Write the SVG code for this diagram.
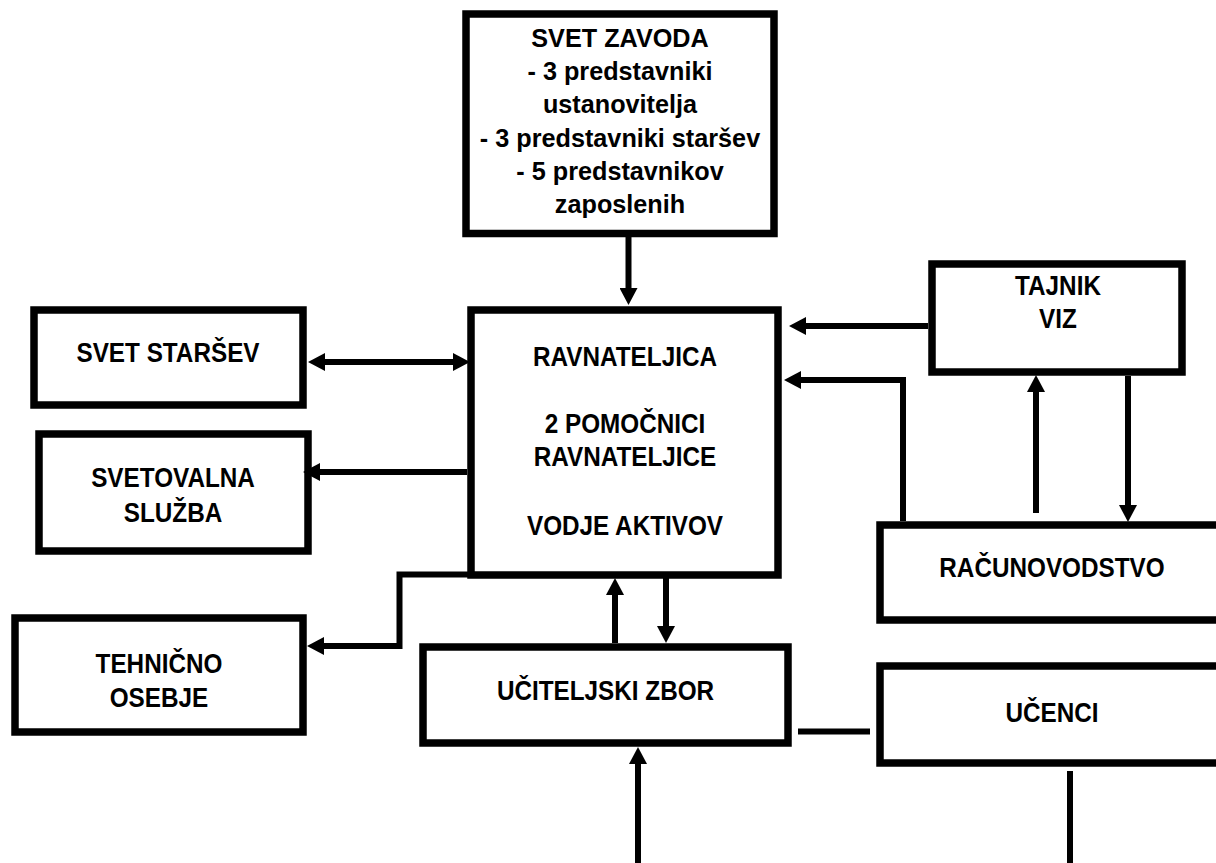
<svg xmlns="http://www.w3.org/2000/svg" width="1216" height="863" viewBox="0 0 1216 863">
<defs>
<style>
.box{fill:#fff;stroke:#000;stroke-width:7.5}
.t{font-family:"Liberation Sans",Arial,sans-serif;font-weight:bold;font-size:27px;fill:#000;text-anchor:middle}
.s{font-size:26px}
.c{fill:none;stroke:#000;stroke-width:6}
.ar{marker-end:url(#ah)}
</style>
<marker id="ah" markerUnits="userSpaceOnUse" markerWidth="18" markerHeight="18" viewBox="0 0 18 18" refX="0" refY="9" orient="auto-start-reverse">
<path d="M0,0 L17,9 L0,18 Z" fill="#000"/>
</marker>
</defs>
<rect width="1216" height="863" fill="#fff"/>

<g id="svet-zavoda">
<rect class="box" x="466" y="14" width="308" height="219.5"/>
<g transform="translate(620 0) scale(0.97 1)">
<text class="t s" x="0" y="47">SVET ZAVODA</text>
<text class="t s" x="0" y="80">- 3 predstavniki</text>
<text class="t s" x="0" y="113">ustanovitelja</text>
<text class="t s" x="0" y="147">- 3 predstavniki staršev</text>
<text class="t s" x="0" y="180">- 5 predstavnikov</text>
<text class="t s" x="0" y="213">zaposlenih</text>
</g>
</g>

<g id="ravnateljica">
<rect class="box" x="471" y="310" width="307" height="265"/>
<g transform="translate(625 0) scale(0.9 1)">
<text class="t" x="0" y="366">RAVNATELJICA</text>
<text class="t" x="0" y="433">2 POMOČNICI</text>
<text class="t" x="0" y="466">RAVNATELJICE</text>
<text class="t" x="0" y="535">VODJE AKTIVOV</text>
</g>
</g>

<g id="svet-starsev">
<rect class="box" x="34" y="310" width="269" height="95"/>
<text class="t" transform="translate(168 0) scale(0.9 1)" x="0" y="362">SVET STARŠEV</text>
</g>

<g id="svetovalna-sluzba">
<rect class="box" x="39" y="434" width="269" height="117"/>
<g transform="translate(173 0) scale(0.9 1)">
<text class="t" x="0" y="487">SVETOVALNA</text>
<text class="t" x="0" y="522">SLUŽBA</text>
</g>
</g>

<g id="tehnicno-osebje">
<rect class="box" x="15" y="618" width="288" height="114"/>
<g transform="translate(159 0) scale(0.9 1)">
<text class="t" x="0" y="673">TEHNIČNO</text>
<text class="t" x="0" y="707">OSEBJE</text>
</g>
</g>

<g id="tajnik-viz">
<rect class="box" x="932" y="264" width="250" height="108"/>
<g transform="translate(1058 0) scale(0.9 1)">
<text class="t" x="0" y="295">TAJNIK</text>
<text class="t" x="0" y="328">VIZ</text>
</g>
</g>

<g id="racunovodstvo">
<rect class="box" x="880" y="525" width="360" height="95"/>
<text class="t" transform="translate(1052 0) scale(0.9 1)" x="0" y="577">RAČUNOVODSTVO</text>
</g>

<g id="ucenci">
<rect class="box" x="880" y="666" width="360" height="97"/>
<text class="t" transform="translate(1052 0) scale(0.9 1)" x="0" y="722">UČENCI</text>
</g>

<g id="uciteljski-zbor">
<rect class="box" x="423" y="647" width="365" height="96"/>
<text class="t" transform="translate(605.5 0) scale(0.9 1)" x="0" y="700">UČITELJSKI ZBOR</text>
</g>

<g id="connectors">
<path class="c ar" d="M628.5 237 V288"/>
<path class="c ar" d="M325 362 H453" marker-start="url(#ah)"/>
<path class="c ar" d="M467 472 H320"/>
<path class="c ar" d="M928 326 H806"/>
<path class="c ar" d="M903 521 V380 H801"/>
<path class="c ar" d="M1036 513 V392"/>
<path class="c ar" d="M1128 376 V505"/>
<path class="c ar" d="M471 574.5 H399.5 V646 H324"/>
<path class="c ar" d="M615 643 V595"/>
<path class="c ar" d="M666 578 V626"/>
<path class="c ar" d="M638 863 V764"/>
<path class="c" d="M798 731.5 H870"/>
<path class="c" d="M1070 771 V863"/>
</g>
</svg>
